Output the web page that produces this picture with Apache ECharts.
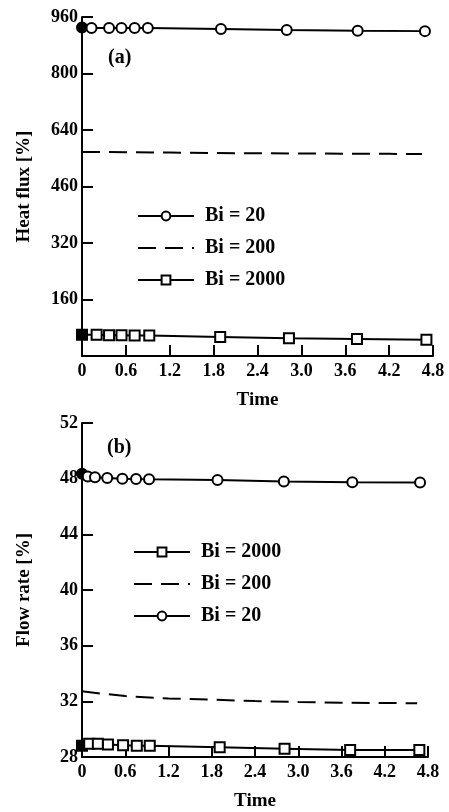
<!DOCTYPE html>
<html>
<head>
<meta charset="utf-8">
<script src="https://cdn.jsdelivr.net/npm/echarts@6/dist/echarts.min.js"></script>
<style>
  html, body { margin: 0; padding: 0; background: #fff; }
  #chart { width: 449px; height: 812px; }
</style>
</head>
<body>
<div id="chart"></div>
<script>
// x ticks shared by both panels
const timeTicks = [0, 0.6, 1.2, 1.8, 2.4, 3.0, 3.6, 4.2, 4.8]

// panel (a) y tick labels as printed (480 is printed as 460)
const heatTicks = [0, 160, 320, 480, 640, 800, 960]
const heatTickText = ['', '160', '320', '460', '640', '800', '960']

// panel (a) heat flux
const heatBi20T = [0, 0.13, 0.37, 0.54, 0.72, 0.9, 1.9, 2.8, 3.77, 4.69]
const heatBi20V = [930, 929, 929, 929, 929, 929, 926, 923, 921, 920]
const heatBi200T = [0, 0.6, 1.2, 1.8, 2.4, 3.0, 3.6, 4.2, 4.65]
const heatBi200V = [578, 577, 576, 575, 574, 573.5, 573, 572.5, 572]
const heatBi2000T = [0, 0.2, 0.37, 0.54, 0.72, 0.92, 1.89, 2.83, 3.76, 4.71]
const heatBi2000V = [60, 60, 59, 59, 58, 58, 54, 50, 48, 46]

// panel (b) flow rate
const flowTicks = [28, 32, 36, 40, 44, 48, 52]
const flowBi20T = [0, 0.08, 0.18, 0.35, 0.56, 0.75, 0.93, 1.88, 2.8, 3.75, 4.69]
const flowBi20V = [48.35, 48.15, 48.1, 48.05, 48.0, 47.97, 47.95, 47.9, 47.8, 47.75, 47.72]
const flowBi200T = [0, 0.25, 0.6, 1.2, 1.8, 2.4, 3.0, 3.6, 4.2, 4.65]
const flowBi200V = [32.72, 32.57, 32.38, 32.2, 32.12, 32.02, 31.95, 31.9, 31.88, 31.86]
const flowBi2000T = [0, 0.1, 0.22, 0.36, 0.57, 0.76, 0.94, 1.91, 2.81, 3.72, 4.68]
const flowBi2000V = [28.8, 28.95, 28.95, 28.9, 28.85, 28.8, 28.8, 28.7, 28.6, 28.5, 28.5]

const font = 'Liberation Serif, DejaVu Serif, serif'

function pairs(t, v, filledFirst) {
  return t.map(function(x, i) {
    const item = { value: [x, v[i]] }
    if (filledFirst && i === 0) {
      item.itemStyle = { color: '#000' }
    }
    return item
  })
}

function markerSeries(name, idx, t, v, symbol) {
  return {
    name: name,
    type: 'line',
    xAxisIndex: idx,
    yAxisIndex: idx,
    symbol: symbol,
    symbolSize: 10,
    showSymbol: true,
    itemStyle: { color: '#fff', borderColor: '#000', borderWidth: 2 },
    lineStyle: { color: '#000', width: 2 },
    data: pairs(t, v, true),
    animation: false,
    z: 3
  }
}

function dashSeries(name, idx, t, v) {
  return {
    name: name,
    type: 'line',
    xAxisIndex: idx,
    yAxisIndex: idx,
    symbol: 'none',
    // transparent so the legend shows only the dashed line
    itemStyle: { color: 'rgba(0,0,0,0)', borderWidth: 0 },
    lineStyle: { color: '#000', width: 2, type: [18, 9] },
    data: pairs(t, v, false),
    animation: false
  }
}

function xAxis(idx) {
  return {
    type: 'value',
    gridIndex: idx,
    min: timeTicks[0],
    max: timeTicks[timeTicks.length - 1],
    interval: 0.6,
    name: 'Time',
    nameLocation: 'middle',
    nameGap: 35,
    nameTextStyle: { fontFamily: font, fontSize: 19, fontWeight: 'bold', color: '#000' },
    axisLine: { lineStyle: { color: '#000', width: 2 } },
    axisTick: { inside: true, length: 11, lineStyle: { color: '#000', width: 2 } },
    axisLabel: {
      fontFamily: font, fontSize: 18, fontWeight: 'bold', color: '#000', margin: 6,
      formatter: function(v) { return v === 0 ? '0' : v.toFixed(1) }
    },
    splitLine: { show: false }
  }
}

const legendText = { fontFamily: font, fontSize: 20, fontWeight: 'bold', color: '#000', padding: [0, 0, 0, 6] }

const chart = echarts.init(document.getElementById('chart'))
chart.setOption({
  backgroundColor: '#fff',
  title: [
    { text: '(a)', left: 103, top: 43, textStyle: { fontFamily: font, fontSize: 20, fontWeight: 'bold', color: '#000' } },
    { text: '(b)', left: 102, top: 433, textStyle: { fontFamily: font, fontSize: 20, fontWeight: 'bold', color: '#000' } }
  ],
  legend: [
    {
      data: ['Bi = 20', 'Bi = 200', 'Bi = 2000'],
      orient: 'vertical',
      left: 132,
      top: 201,
      itemWidth: 56,
      itemHeight: 11,
      itemGap: 12,
      selectedMode: false,
      textStyle: legendText
    },
    {
      data: ['Bi = 2000', 'Bi = 200', 'Bi = 20'],
      orient: 'vertical',
      left: 128,
      top: 537,
      itemWidth: 56,
      itemHeight: 11,
      itemGap: 12,
      selectedMode: false,
      textStyle: legendText
    }
  ],
  grid: [
    { left: 82, top: 17, right: 16, bottom: 456 },
    { left: 82, top: 423, right: 21, bottom: 53 }
  ],
  xAxis: [xAxis(0), xAxis(1)],
  yAxis: [
    {
      type: 'value',
      gridIndex: 0,
      min: heatTicks[0],
      max: heatTicks[heatTicks.length - 1],
      interval: 160,
      name: 'Heat flux [%]',
      nameLocation: 'middle',
      nameGap: 48,
      nameTextStyle: { fontFamily: font, fontSize: 19, fontWeight: 'bold', color: '#000' },
      axisLine: { lineStyle: { color: '#000', width: 2 } },
      axisTick: { inside: true, length: 11, lineStyle: { color: '#000', width: 2 } },
      axisLabel: {
        fontFamily: font, fontSize: 18, fontWeight: 'bold', color: '#000', margin: 4,
        formatter: function(v) { return heatTickText[heatTicks.indexOf(v)] || '' }
      },
      splitLine: { show: false }
    },
    {
      type: 'value',
      gridIndex: 1,
      min: flowTicks[0],
      max: flowTicks[flowTicks.length - 1],
      interval: 4,
      name: 'Flow rate [%]',
      nameLocation: 'middle',
      nameGap: 48,
      nameTextStyle: { fontFamily: font, fontSize: 19, fontWeight: 'bold', color: '#000' },
      axisLine: { lineStyle: { color: '#000', width: 2 } },
      axisTick: { inside: true, length: 11, lineStyle: { color: '#000', width: 2 } },
      axisLabel: { fontFamily: font, fontSize: 18, fontWeight: 'bold', color: '#000', margin: 4 },
      splitLine: { show: false }
    }
  ],
  series: [
    markerSeries('Bi = 20', 0, heatBi20T, heatBi20V, 'circle'),
    dashSeries('Bi = 200', 0, heatBi200T, heatBi200V),
    markerSeries('Bi = 2000', 0, heatBi2000T, heatBi2000V, 'rect'),
    markerSeries('Bi = 2000', 1, flowBi2000T, flowBi2000V, 'rect'),
    dashSeries('Bi = 200', 1, flowBi200T, flowBi200V),
    markerSeries('Bi = 20', 1, flowBi20T, flowBi20V, 'circle')
  ]
})
</script>
</body>
</html>
